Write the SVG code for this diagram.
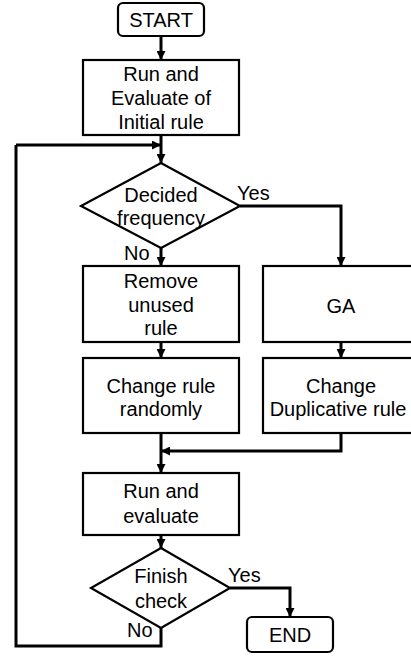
<svg xmlns="http://www.w3.org/2000/svg" width="411" height="656" viewBox="0 0 411 656">
<defs>
<marker id="ah" viewBox="0 0 10 10" refX="10" refY="5" markerWidth="3" markerHeight="3" orient="auto" markerUnits="strokeWidth">
<path d="M0,0 L10,5 L0,10 Z" fill="#000"/>
</marker>
</defs>
<style>
.box{fill:#fff;stroke:#000;stroke-width:2.2}
.t{font-family:"Liberation Sans",Arial,sans-serif;font-size:20px;fill:#000;text-anchor:middle}
.l{font-family:"Liberation Sans",Arial,sans-serif;font-size:20px;fill:#000}
.c{fill:none;stroke:#000;stroke-width:3;marker-end:url(#ah)}
.cn{fill:none;stroke:#000;stroke-width:3}
</style>
<rect width="411" height="656" fill="#fff"/>
<g id="connectors">
<path class="c" d="M161,36 V60"/>
<path class="c" d="M161,135 V163"/>
<path class="c" d="M16,145 H161"/>
<path class="c" d="M161,248 V266"/>
<path class="c" d="M240,206 H341 V266"/>
<path class="c" d="M161,342 V358"/>
<path class="c" d="M341,342 V358"/>
<path class="c" d="M161,433 V473"/>
<path class="c" d="M341,433 V451 H161"/>
<path class="c" d="M161,535 V548"/>
<path class="c" d="M230,588 H290 V617"/>
<path class="cn" d="M161,628 V646 H16 V145"/>
<text class="l" x="237" y="200">Yes</text>
<text class="l" x="124" y="260">No</text>
<text class="l" x="228" y="582">Yes</text>
<text class="l" x="127" y="637">No</text>
</g>
<g id="start">
<rect class="box" x="118" y="3" width="86" height="33" rx="5"/>
<text class="t" x="161" y="27">START</text>
</g>
<g id="init">
<rect class="box" x="83" y="60" width="156" height="75"/>
<text class="t" x="161" y="81">Run and</text>
<text class="t" x="161" y="105">Evaluate of</text>
<text class="t" x="161" y="129">Initial rule</text>
</g>
<g id="decided">
<path class="box" d="M161,163 L240,206 L161,248 L81,206 Z"/>
<text class="t" x="161" y="202">Decided</text>
<text class="t" x="161" y="225">frequency</text>
</g>
<g id="remove">
<rect class="box" x="83" y="266" width="156" height="76"/>
<text class="t" x="161" y="288">Remove</text>
<text class="t" x="161" y="312">unused</text>
<text class="t" x="161" y="335">rule</text>
</g>
<g id="ga">
<rect class="box" x="263" y="266" width="150" height="76"/>
<text class="t" x="341" y="313">GA</text>
</g>
<g id="changerand">
<rect class="box" x="83" y="358" width="156" height="75"/>
<text class="t" x="161" y="393">Change rule</text>
<text class="t" x="161" y="416">randomly</text>
</g>
<g id="changedup">
<rect class="box" x="263" y="358" width="150" height="75"/>
<text class="t" x="341" y="393">Change</text>
<text class="t" x="338" y="416">Duplicative rule</text>
</g>
<g id="runeval">
<rect class="box" x="83" y="473" width="156" height="62"/>
<text class="t" x="161" y="498">Run and</text>
<text class="t" x="161" y="523">evaluate</text>
</g>
<g id="finish">
<path class="box" d="M161,548 L230,588 L161,628 L91,588 Z"/>
<text class="t" x="161" y="583">Finish</text>
<text class="t" x="161" y="608">check</text>
</g>
<g id="end">
<rect class="box" x="247" y="617" width="86" height="35" rx="5"/>
<text class="t" x="290" y="642">END</text>
</g>
</svg>
